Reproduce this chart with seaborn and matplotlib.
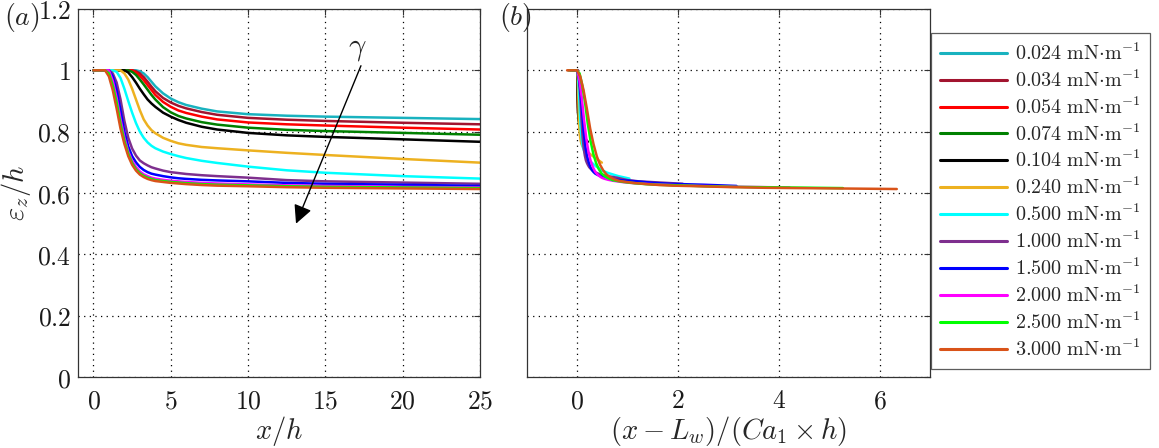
import numpy as np
import pandas as pd
import matplotlib
matplotlib.use("Agg")
import matplotlib.pyplot as plt
import seaborn as sns
from matplotlib.ticker import FuncFormatter, FixedLocator

# ---------------- data ----------------
gamma_labels = ["0.024", "0.034", "0.054", "0.074", "0.104", "0.240",
                "0.500", "1.000", "1.500", "2.000", "2.500", "3.000"]
colors = ["#19B2BF", "#A2142F", "#FF0000", "#008000", "#000000", "#EDB120",
          "#00FFFF", "#7E2F8E", "#0000FF", "#FF00FF", "#00FF00", "#D95319"]

x_h = [0, 0.5, 0.75, 1.0, 1.25, 1.5, 1.75, 2.0, 2.25, 2.5, 2.75, 3.0, 3.25, 3.5,
       3.75, 4.0, 4.5, 5.0, 5.5, 6.0, 7.0, 8.0, 10, 12.5, 15, 20, 25]

eps_0024 = [1, 1, 1, 1, 1, 1, 1, 1, 1, 1, 1,
            0.997, 0.99, 0.978, 0.963, 0.948, 0.925, 0.908, 0.896, 0.887, 0.875, 0.866,
            0.857, 0.852, 0.849, 0.845, 0.841]
eps_0034 = [1, 1, 1, 1, 1, 1, 1, 1, 1, 1,
            0.997, 0.99, 0.978, 0.963, 0.947, 0.932, 0.91, 0.895, 0.884, 0.876, 0.864, 0.855,
            0.845, 0.839, 0.835, 0.829, 0.824]
eps_0054 = [1, 1, 1, 1, 1, 1, 1, 1, 1, 1,
            0.993, 0.982, 0.968, 0.952, 0.936, 0.92, 0.897, 0.881, 0.869, 0.861, 0.849, 0.84,
            0.83, 0.824, 0.82, 0.813, 0.807]
eps_0074 = [1, 1, 1, 1, 1, 1, 1, 1, 1,
            0.995, 0.985, 0.97, 0.954, 0.937, 0.92, 0.905, 0.88, 0.863, 0.851, 0.843, 0.831,
            0.823, 0.813, 0.806, 0.802, 0.796, 0.79]
eps_0104 = [1, 1, 1, 1, 1, 1, 1, 1,
            0.993, 0.978, 0.96, 0.94, 0.922, 0.905, 0.892, 0.881, 0.862, 0.849, 0.838, 0.829,
            0.816, 0.807, 0.796, 0.788, 0.783, 0.775, 0.767]
eps_0240 = [1, 1, 1, 1, 1, 1, 1,
            0.99, 0.97, 0.94, 0.905, 0.87, 0.84, 0.82, 0.805, 0.795, 0.78, 0.77, 0.762, 0.757,
            0.75, 0.746, 0.739, 0.731, 0.724, 0.711, 0.699]
eps_0500 = [1, 1, 1, 1, 1,
            0.995, 0.975, 0.94, 0.9, 0.862, 0.828, 0.8, 0.78, 0.765, 0.754, 0.746, 0.735, 0.727,
            0.72, 0.714, 0.705, 0.698, 0.686, 0.674, 0.666, 0.655, 0.647]
eps_1000 = [1, 1, 1, 1,
            0.99, 0.96, 0.905, 0.835, 0.78, 0.745, 0.722, 0.706, 0.697, 0.69, 0.684, 0.68,
            0.673, 0.668, 0.665, 0.662, 0.658, 0.655, 0.65, 0.642, 0.638, 0.634, 0.63]
eps_1500 = [1, 1, 1, 1,
            0.98, 0.935, 0.87, 0.8, 0.752, 0.72, 0.7, 0.685, 0.675, 0.668, 0.663, 0.66, 0.655,
            0.651, 0.648, 0.646, 0.643, 0.641, 0.638, 0.633, 0.63, 0.627, 0.623]
eps_2000 = [1, 1, 1, 1,
            0.965, 0.91, 0.84, 0.78, 0.735, 0.705, 0.685, 0.67, 0.661, 0.655, 0.65, 0.647,
            0.643, 0.64, 0.638, 0.636, 0.633, 0.631, 0.628, 0.625, 0.623, 0.62, 0.618]
eps_2500 = [1, 1, 1,
            0.99, 0.95, 0.895, 0.825, 0.77, 0.728, 0.698, 0.678, 0.664, 0.656, 0.65, 0.646,
            0.642, 0.639, 0.636, 0.634, 0.632, 0.629, 0.627, 0.625, 0.622, 0.62, 0.618, 0.616]
eps_3000 = [1, 1, 1,
            0.98, 0.935, 0.875, 0.81, 0.76, 0.72, 0.692, 0.673, 0.66, 0.652, 0.646, 0.642,
            0.639, 0.636, 0.633, 0.631, 0.629, 0.626, 0.624, 0.622, 0.619, 0.617, 0.615, 0.613]

eps_series = [eps_0024, eps_0034, eps_0054, eps_0074, eps_0104, eps_0240,
              eps_0500, eps_1000, eps_1500, eps_2000, eps_2500, eps_3000]

# wetting length L_w/h and capillary number Ca_1 for each surface tension
L_w = [2.9, 2.7, 2.55, 2.3, 2.05, 1.8, 1.35, 1.05, 1.05, 1.0, 0.8, 0.78]
Ca1 = [477, 337, 212, 155, 110, 47.7, 22.9, 11.45, 7.58, 5.70, 4.59, 3.82]

legend_labels = [r"$%s\ \mathrm{mN{\cdot}m^{-1}}$" % g for g in gamma_labels]

# ---------------- long table ----------------
rows = []
for lab, ys, lw_, ca in zip(legend_labels, eps_series, L_w, Ca1):
    for xv, yv in zip(x_h, ys):
        rows.append({"series": lab, "x": xv, "xs": (xv - lw_) / ca, "eps": yv})
df = pd.DataFrame(rows)
palette = dict(zip(legend_labels, colors))

# ---------------- style ----------------
sns.set_theme(style="white")
plt.rcParams["font.family"] = ["DejaVu Serif"]
plt.rcParams["mathtext.fontset"] = "cm"

W, H = 1159, 448
fig = plt.figure(figsize=(W / 100, H / 100), dpi=100)

def box(x0, y0, x1, y1):
    return [x0 / W, 1 - y1 / H, (x1 - x0) / W, (y1 - y0) / H]

ax1 = fig.add_axes(box(78, 9, 480, 377))
ax2 = fig.add_axes(box(527, 9, 930, 377))

lw = 1.8
sns.lineplot(data=df, x="x", y="eps", hue="series", hue_order=legend_labels,
             palette=palette, ax=ax1, estimator=None, sort=False, lw=lw, legend=True)
handles, labels = ax1.get_legend_handles_labels()
ax1.get_legend().remove()
sns.lineplot(data=df, x="xs", y="eps", hue="series", hue_order=legend_labels,
             palette=palette, ax=ax2, estimator=None, sort=False, lw=lw, legend=False)

fmt = FuncFormatter(lambda v, _: r"$%g$" % v)
for ax in (ax1, ax2):
    ax.set_ylim(0, 1.2)
    ax.yaxis.set_major_locator(FixedLocator([0, 0.2, 0.4, 0.6, 0.8, 1.0, 1.2]))
    ax.grid(True, color="black", linestyle=(0, (1, 3.5)), linewidth=0.9)
    for s in ax.spines.values():
        s.set_color("#333333")
        s.set_linewidth(0.9)
    ax.tick_params(direction="in", length=4, width=0.8, colors="#333333",
                   top=True, right=True, labelsize=18.5, labelcolor="#1a1a1a")
    ax.tick_params(axis="x", pad=8)
    ax.tick_params(axis="y", pad=5)
    ax.xaxis.set_major_formatter(fmt)
    ax.yaxis.set_major_formatter(fmt)
    ax.set_facecolor("white")

ax1.set_xlim(-1, 25)
ax1.xaxis.set_major_locator(FixedLocator([0, 5, 10, 15, 20, 25]))
ax2.set_xlim(-1, 7)
ax2.xaxis.set_major_locator(FixedLocator([0, 2, 4, 6]))
ax2.tick_params(labelleft=False)

ax1.set_xlabel(r"$x/h$", fontsize=20.5, labelpad=1)
ax1.set_ylabel(r"$\varepsilon_z/h$", fontsize=20.5, labelpad=3)
ax2.set_xlabel(r"$(x-L_w)/(Ca_1\times h)$", fontsize=20.5, labelpad=1)
ax2.set_ylabel("")

fig.text(4 / W, 1 - 17 / H, r"$(a)$", fontsize=20, va="center", ha="left")
fig.text(499 / W, 1 - 17 / H, r"$(b)$", fontsize=20, va="center", ha="left")

# gamma arrow
ax1.annotate("", xy=(13.1, 0.50), xytext=(17.3, 1.015),
             arrowprops=dict(arrowstyle="-|>", color="black", lw=1.0,
                             mutation_scale=28, shrinkA=0, shrinkB=0))
ax1.text(17.05, 1.075, r"$\gamma$", fontsize=22, ha="center", va="center")

leg = fig.legend(handles, legend_labels, loc="upper left",
                 bbox_to_anchor=(931 / W, 1 - 33 / H), fontsize=14.5,
                 frameon=True, fancybox=False, borderaxespad=0,
                 handlelength=3.3, handletextpad=0.4, labelspacing=0.26,
                 borderpad=0.45)
leg.get_frame().set_edgecolor("#333333")
leg.get_frame().set_linewidth(0.9)
for h in leg.get_lines():
    h.set_linewidth(2.2)

fig.savefig("out.png", dpi=100, facecolor="white")
